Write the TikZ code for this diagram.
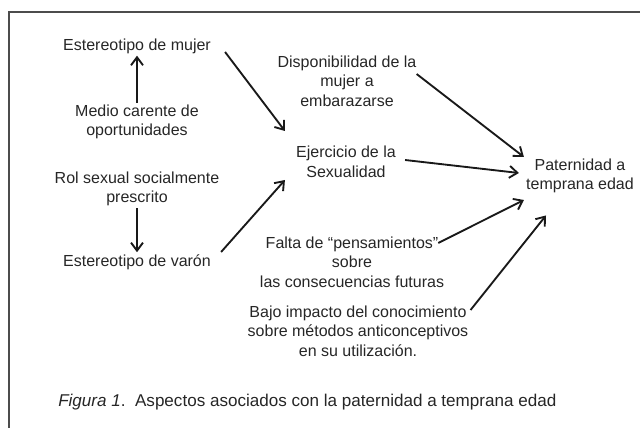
\documentclass[tikz,border=0pt]{standalone}
\usepackage{fontspec}
\setmainfont{Liberation Sans}
\usetikzlibrary{calc}
\usetikzlibrary{arrows.meta}
\tikzset{Factor Text/.style = {align = center, inner sep = 0pt, text = black!85,
    font = \fontsize{12}{14.6}\selectfont}}
\tikzset{Link Arrow/.style = {line width = 1.4pt, black!90,
    -{Straight Barb[length = 6pt, width = 9pt]}}}
\tikzset{Frame Line/.style = {line width = 1.9pt, black!70}}

\begin{document}
\begin{tikzpicture}[x = 0.75pt, y = -0.75pt]
  \useasboundingbox (0, 0) rectangle (640, 428);
  \draw[Frame Line] (9, 440) -- (9, 12) -- (650, 12);

  \node[Factor Text] (mujer) at (137, 46) {Estereotipo de mujer};
  \node[Factor Text] (medio) at (137, 122) {Medio carente de\\oportunidades};
  \node[Factor Text] (rol) at (137, 189) {Rol sexual socialmente\\prescrito};
  \node[Factor Text] (varon) at (137, 262) {Estereotipo de varón};

  \node[Factor Text] (dispo) at (347, 81) {Disponibilidad de la\\mujer a\\embarazarse};
  \node[Factor Text] (ejercicio) at (346, 162) {Ejercicio de la\\Sexualidad};
  \node[Factor Text] (falta) at (352, 262)
  {Falta de “pensamientos”\\sobre\\las consecuencias futuras};
  \node[Factor Text] (bajo) at (358, 331)
  {Bajo impacto del conocimiento\\sobre métodos anticonceptivos\\en su utilización.};

  \node[Factor Text] (paternidad) at (580, 176) {Paternidad a\\temprana edad};

  \node[Factor Text, anchor = west, font = \fontsize{12.8}{15}\selectfont]
  (caption) at (58, 402) {\textit{Figura 1}.\ \ Aspectos asociados con la paternidad a temprana edad};

  \draw[Link Arrow] ($(medio.north)+(0, -2)$) -- ($(mujer.south)+(0, 2)$);
  \draw[Link Arrow] ($(rol.south)+(0, 2)$) -- ($(varon.north)+(0, -2)$);

  \draw[Link Arrow] ($(mujer.east)+(14, 6)$) -- ($(ejercicio.west)+(-11, -31)$);
  \draw[Link Arrow] ($(varon.east)+(10, -10)$) -- ($(ejercicio.west)+(-11, 18)$);

  \draw[Link Arrow] ($(dispo.east)+(0, -7)$) -- ($(paternidad.west)+(-2, -19)$);
  \draw[Link Arrow] ($(ejercicio.east)+(9, -2)$) -- ($(paternidad.west)+(-7, -3)$);
  \draw[Link Arrow] ($(falta.east)+(-6, -19)$) -- ($(paternidad.west)+(-2, 24)$);
  \draw[Link Arrow] ($(bajo.east)+(2, -21)$) -- ($(paternidad.south)+(-34, 22)$);
\end{tikzpicture}
\end{document}
